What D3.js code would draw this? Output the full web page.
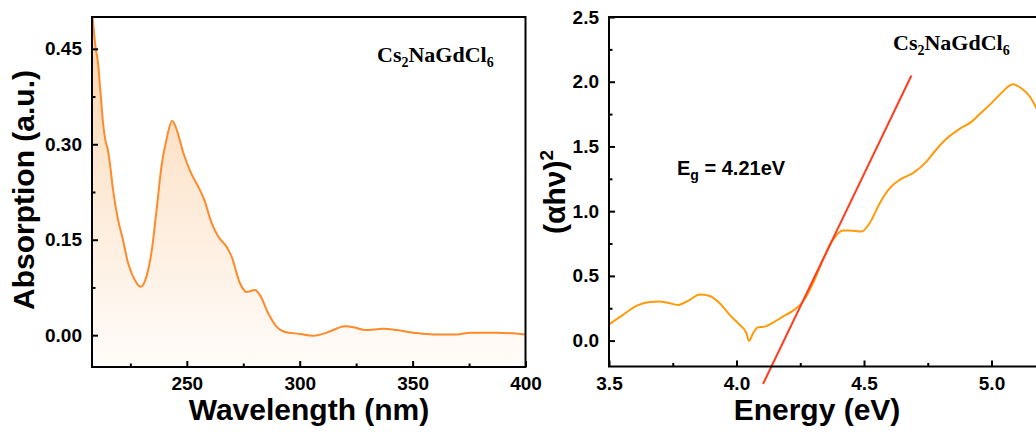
<!DOCTYPE html>
<html lang="en">
<head>
  <meta charset="UTF-8">
  <title>Cs2NaGdCl6 absorption and Tauc plot</title>
  <style>
    body { margin: 0; background: #fff; }
    svg { display: block; }
    .tick text { font-family: Arial, "Liberation Sans", sans-serif; font-weight: bold; font-size: 19px; fill: #000; }
    .tick line { stroke: #000; stroke-width: 2; }
    .title { font-family: Arial, "Liberation Sans", sans-serif; font-weight: bold; font-size: 30px; fill: #000; }
    .formula { font-family: "Times New Roman", "Liberation Serif", serif; font-weight: bold; font-size: 22px; fill: #000; }
  </style>
</head>
<body>
  <svg id="chart" width="1036" height="434"></svg>

  <script src="https://cdn.jsdelivr.net/npm/d3@7"></script>
  <script>
    // absorption spectrum (left)
    const wavelength = [208.3, 209.6, 210.6, 211.8, 212.9, 214.0, 215.1, 216.2, 217.3, 219.5, 221.7, 224.0, 226.9, 229.6,
      232.1, 234.3, 236.6, 238.8, 241.0, 243.5, 245.4, 248.4, 252.1, 255.0, 257.7, 261.0, 263.9, 267.6, 269.8, 273.5,
      276.5, 280.2, 282.4, 286.1, 289.8, 293.5, 300.1, 306.0, 312.0, 320.1, 324.5, 329.0, 337.1, 343.0, 350.4, 359.2,
      369.6, 375.5, 387.4, 400];
    const absorption = [0.498, 0.452, 0.430, 0.380, 0.333, 0.305, 0.290, 0.262, 0.229, 0.182, 0.150, 0.113, 0.087, 0.076,
      0.092, 0.129, 0.197, 0.266, 0.308, 0.337, 0.324, 0.287, 0.253, 0.234, 0.213, 0.176, 0.155, 0.139, 0.124, 0.082,
      0.068, 0.071, 0.063, 0.034, 0.013, 0.005, 0.002, -0.001, 0.004, 0.014, 0.012, 0.008, 0.010, 0.008, 0.004, 0.001,
      0.001, 0.004, 0.004, 0.001];

    // tauc plot (right)
    const energy = [3.50, 3.555, 3.607, 3.660, 3.699, 3.735, 3.771, 3.817, 3.856, 3.895, 3.934, 3.973, 4.013, 4.039,
      4.049, 4.065, 4.084, 4.111, 4.143, 4.182, 4.222, 4.261, 4.300, 4.339, 4.378, 4.418, 4.444, 4.490, 4.522, 4.562,
      4.601, 4.640, 4.692, 4.745, 4.777, 4.816, 4.875, 4.921, 4.954, 4.993, 5.032, 5.084, 5.117, 5.150, 5.173, 5.20];
    const alphaHv2 = [0.125, 0.199, 0.268, 0.299, 0.302, 0.290, 0.276, 0.315, 0.356, 0.345, 0.289, 0.199, 0.121, 0.057,
      -0.002, 0.057, 0.103, 0.108, 0.139, 0.185, 0.232, 0.302, 0.443, 0.624, 0.778, 0.850, 0.850, 0.842, 0.907, 1.062,
      1.178, 1.242, 1.294, 1.383, 1.461, 1.546, 1.636, 1.690, 1.750, 1.821, 1.899, 1.981, 1.950, 1.886, 1.808, 1.70];
    const fitEnergy = [4.104, 4.686];
    const fitValue = [-0.335, 2.048];

    const wlTicks = [250, 300, 350, 400];
    const wlMinor = [225, 275, 325, 375];
    const absTicks = [0, 0.15, 0.30, 0.45];
    const absMinor = [0.075, 0.225, 0.375];
    const eTicks = [3.5, 4.0, 4.5, 5.0];
    const eMinor = [3.75, 4.25, 4.75];
    const tTicks = [0, 0.5, 1.0, 1.5, 2.0, 2.5];
    const tMinor = [0.25, 0.75, 1.25, 1.75, 2.25];

    const svg = d3.select("#chart");
    const defs = svg.append("defs");

    // left panel scales
    const x1 = d3.scaleLinear().domain([208, 400]).range([92, 525.5]);
    const y1 = d3.scaleLinear().domain([-0.05, 0.5]).range([367, 17]);
    // right panel scales
    const x2 = d3.scaleLinear().domain([3.5, 5.2]).range([609, 1042.5]);
    const y2 = d3.scaleLinear().domain([-0.2, 2.5]).range([366.5, 17]);

    const grad = defs.append("linearGradient")
      .attr("id", "fillGrad")
      .attr("gradientUnits", "userSpaceOnUse")
      .attr("x1", 0).attr("x2", 0).attr("y1", 17).attr("y2", 367);
    grad.append("stop").attr("offset", 0).attr("stop-color", "#fbd2a8");
    grad.append("stop").attr("offset", 0.45).attr("stop-color", "#fde8d3");
    grad.append("stop").attr("offset", 1).attr("stop-color", "#fffcfa");

    defs.append("clipPath").attr("id", "clipL")
      .append("rect").attr("x", 92).attr("y", 17).attr("width", 433.5).attr("height", 350);

    const absData = wavelength.map((w, i) => [w, absorption[i]]);
    const tData = energy.map((e, i) => [e, alphaHv2[i]]);

    const gL = svg.append("g");
    gL.append("path")
      .datum(absData)
      .attr("clip-path", "url(#clipL)")
      .attr("fill", "url(#fillGrad)")
      .attr("d", d3.area().curve(d3.curveMonotoneX)
        .x(d => x1(d[0])).y0(y1(-0.05)).y1(d => y1(d[1])));
    gL.append("path")
      .datum(absData)
      .attr("clip-path", "url(#clipL)")
      .attr("fill", "none")
      .attr("stroke", "#ff8a2a")
      .attr("stroke-width", 2)
      .attr("d", d3.line().curve(d3.curveMonotoneX).x(d => x1(d[0])).y(d => y1(d[1])));

    // helper for inward ticks
    function drawAxes(g, xs, ys, xt, xm, yt, ym, xf, yf) {
      const bottom = ys.range()[0], left = xs.range()[0];
      g.append("g").attr("transform", `translate(0,${bottom})`)
        .call(d3.axisBottom(xs).tickValues(xt).tickFormat(xf).tickSizeInner(-6).tickSizeOuter(0).tickPadding(10))
        .call(a => a.select(".domain").remove());
      g.append("g").attr("transform", `translate(0,${bottom})`)
        .call(d3.axisBottom(xs).tickValues(xm).tickFormat("").tickSizeInner(-3.5).tickSizeOuter(0))
        .call(a => a.select(".domain").remove());
      g.append("g").attr("transform", `translate(${left},0)`)
        .call(d3.axisLeft(ys).tickValues(yt).tickFormat(yf).tickSizeInner(-6).tickSizeOuter(0).tickPadding(10))
        .call(a => a.select(".domain").remove());
      g.append("g").attr("transform", `translate(${left},0)`)
        .call(d3.axisLeft(ys).tickValues(ym).tickFormat("").tickSizeInner(-3.5).tickSizeOuter(0))
        .call(a => a.select(".domain").remove());
      g.append("rect")
        .attr("x", left).attr("y", ys.range()[1])
        .attr("width", xs.range()[1] - left).attr("height", bottom - ys.range()[1])
        .attr("fill", "none").attr("stroke", "#000").attr("stroke-width", 2);
      g.selectAll(".tick text").attr("font-family", null).attr("font-size", null);
    }

    drawAxes(gL, x1, y1, wlTicks, wlMinor, absTicks, absMinor, d3.format("d"), d3.format(".2f"));

    gL.append("text").attr("class", "title")
      .attr("text-anchor", "middle")
      .attr("font-size", 31)
      .attr("transform", "translate(34,190) rotate(-90)")
      .text("Absorption (a.u.)");
    gL.append("text").attr("class", "title")
      .attr("text-anchor", "middle")
      .attr("x", 309).attr("y", 420)
      .text("Wavelength (nm)");

    function formula(g, x, y) {
      const t = g.append("text").attr("class", "formula").attr("x", x).attr("y", y);
      t.append("tspan").text("Cs");
      t.append("tspan").attr("font-size", 14).attr("dy", 5).text("2");
      t.append("tspan").attr("dy", -5).text("NaGdCl");
      t.append("tspan").attr("font-size", 14).attr("dy", 5).text("6");
    }
    formula(gL, 377, 62);

    // right panel
    const gR = svg.append("g");
    gR.append("path")
      .datum(tData)
      .attr("fill", "none")
      .attr("stroke", "#ff9a0a")
      .attr("stroke-width", 2)
      .attr("d", d3.line().curve(d3.curveMonotoneX).x(d => x2(d[0])).y(d => y2(d[1])));
    gR.append("line")
      .attr("x1", x2(fitEnergy[0])).attr("y1", y2(fitValue[0]))
      .attr("x2", x2(fitEnergy[1])).attr("y2", y2(fitValue[1]))
      .attr("stroke", "#ff3d1f").attr("stroke-width", 2);

    drawAxes(gR, x2, y2, eTicks, eMinor, tTicks, tMinor, d3.format(".1f"), d3.format(".1f"));

    const yl = gR.append("text").attr("class", "title")
      .attr("text-anchor", "middle")
      .attr("transform", "translate(565,192) rotate(-90)");
    yl.append("tspan").text("(αhν)");
    yl.append("tspan").attr("font-size", 19).attr("dy", -12).text("2");

    gR.append("text").attr("class", "title")
      .attr("text-anchor", "middle")
      .attr("x", 817).attr("y", 420)
      .text("Energy (eV)");

    const eg = gR.append("text")
      .attr("x", 677).attr("y", 175)
      .attr("font-family", "Arial, 'Liberation Sans', sans-serif")
      .attr("font-weight", "bold").attr("font-size", 20);
    eg.append("tspan").text("E");
    eg.append("tspan").attr("font-size", 14).attr("dy", 5).text("g");
    eg.append("tspan").attr("dy", -5).text(" = 4.21eV");

    formula(gR, 893, 50);
  </script>
</body>
</html>
